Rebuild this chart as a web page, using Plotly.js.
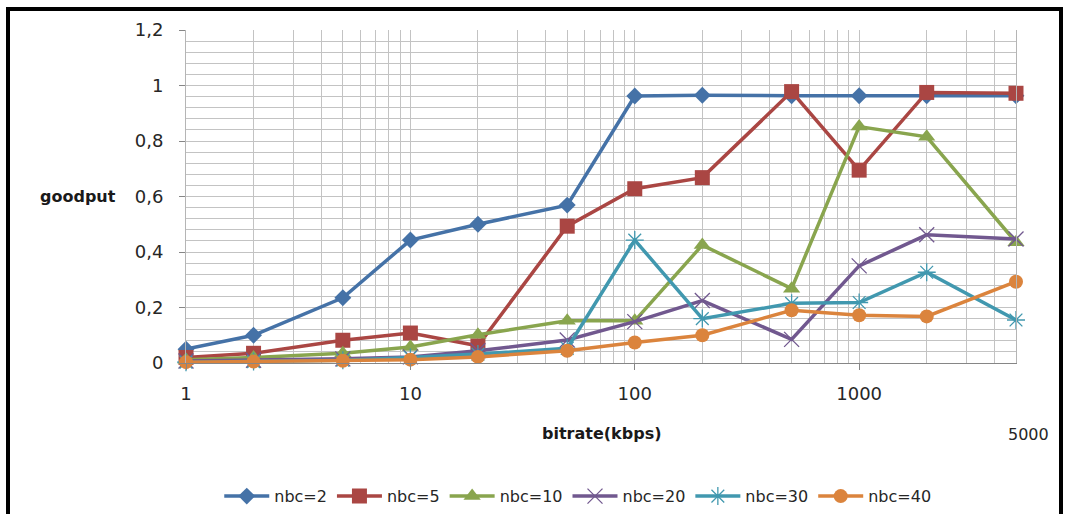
<!DOCTYPE html>
<html>
<head>
<meta charset="utf-8">
<script src="https://cdn.plot.ly/plotly-3.0.1.min.js"></script>
<style>
  html, body { margin: 0; padding: 0; background: #ffffff; }
  #wrap { position: relative; width: 1065px; height: 514px; overflow: hidden; }
  #chart { position: absolute; left: 0; top: 0; width: 1065px; height: 514px; }
  #frame { position: absolute; left: 6px; top: 7px; width: 1049px; height: 520px;
           border: 4px solid #000; pointer-events: none; }
</style>
</head>
<body>
<div id="wrap">
  <div id="chart"></div>
  <div id="frame"></div>
</div>
<script>
// bitrate in kbps (log x axis)
const bitrate = [1, 2, 5, 10, 20, 50, 100, 200, 500, 1000, 2000, 5000];

// goodput per number of concurrent connections
const nbc2  = [0.05, 0.10, 0.235, 0.443, 0.50, 0.569, 0.962, 0.965, 0.963, 0.963, 0.963, 0.963];
const nbc5  = [0.02, 0.035, 0.082, 0.108, 0.062, 0.493, 0.628, 0.668, 0.978, 0.695, 0.975, 0.972];
const nbc10 = [0.012, 0.02, 0.035, 0.058, 0.102, 0.152, 0.152, 0.425, 0.268, 0.852, 0.815, 0.435];
const nbc20 = [0.007, 0.01, 0.015, 0.022, 0.044, 0.083, 0.149, 0.225, 0.085, 0.35, 0.462, 0.447];
const nbc30 = [0.003, 0.005, 0.01, 0.02, 0.032, 0.053, 0.443, 0.16, 0.215, 0.218, 0.327, 0.155];
const nbc40 = [0.003, 0.005, 0.008, 0.012, 0.022, 0.044, 0.074, 0.10, 0.19, 0.172, 0.168, 0.293];

const seriesNames = ['nbc=2', 'nbc=5', 'nbc=10', 'nbc=20', 'nbc=30', 'nbc=40'];
const xTickVals = [1, 10, 100, 1000];
const xTickText = ['1', '10', '100', '1000'];
const yTickVals = [0, 0.2, 0.4, 0.6, 0.8, 1, 1.2];
const yTickText = ['0', '0,2', '0,4', '0,6', '0,8', '1', '1,2'];

const FONT = 'DejaVu Sans, sans-serif';
const GRID = '#c3c3c3';

const styles = [
  { color: '#4572A7', symbol: 'diamond', size: 13 },
  { color: '#AA4643', symbol: 'square', size: 15 },
  { color: '#89A54E', symbol: 'triangle-up', size: 15 },
  { color: '#71588F', symbol: 'x-thin-open', size: 15 },
  { color: '#4198AF', symbol: 'asterisk-open', size: 15 },
  { color: '#DB843D', symbol: 'circle', size: 14 }
];

const values = [nbc2, nbc5, nbc10, nbc20, nbc30, nbc40];

const traces = values.map((ys, i) => {
  const s = styles[i];
  const thin = s.symbol.indexOf('open') >= 0;
  return {
    type: 'scatter',
    mode: 'lines+markers',
    name: seriesNames[i],
    x: bitrate,
    y: ys,
    line: { color: s.color, width: 3.5 },
    marker: {
      symbol: s.symbol,
      size: s.size,
      color: s.color,
      line: { color: s.color, width: thin ? 1.3 : 0 }
    },
    cliponaxis: false
  };
});

const layout = {
  width: 1065,
  height: 514,
  margin: { l: 186, r: 49, t: 30, b: 151, autoexpand: false },
  paper_bgcolor: '#ffffff',
  plot_bgcolor: '#ffffff',
  font: { family: FONT, size: 18, color: '#262626' },
  showlegend: true,
  legend: {
    orientation: 'h',
    x: 0.472, xanchor: 'center',
    y: -0.40, yanchor: 'middle',
    font: { family: FONT, size: 16, color: '#262626' },
    itemwidth: 45,
    tracegroupgap: 0
  },
  xaxis: {
    type: 'log',
    range: [0, Math.log10(5000)],
    tickmode: 'array',
    tickvals: xTickVals,
    ticktext: xTickText,
    ticks: 'outside',
    ticklen: 6,
    tickcolor: '#868686',
    ticklabelstandoff: 8,
    showgrid: true,
    gridcolor: GRID,
    gridwidth: 1,
    minor: { dtick: 'D1', showgrid: true, gridcolor: GRID, gridwidth: 1 },
    showline: true,
    linecolor: '#868686',
    linewidth: 1,
    zeroline: false,
    fixedrange: true
  },
  yaxis: {
    range: [0, 1.2],
    tickmode: 'array',
    tickvals: yTickVals,
    ticktext: yTickText,
    ticks: 'outside',
    ticklen: 6,
    tickcolor: '#868686',
    ticklabelstandoff: 12,
    showgrid: true,
    gridcolor: GRID,
    gridwidth: 1,
    minor: { dtick: 0.04, showgrid: true, gridcolor: GRID, gridwidth: 1 },
    showline: true,
    linecolor: '#b5b5b5',
    linewidth: 1,
    mirror: true,
    zeroline: false,
    fixedrange: true
  },
  annotations: [
    {
      text: '<b>goodput</b>', xref: 'paper', yref: 'paper',
      x: -0.130, y: 0.5015, xanchor: 'center', yanchor: 'middle',
      showarrow: false, font: { family: FONT, size: 16, color: '#1a1a1a' }
    },
    {
      text: '<b>bitrate(kbps)</b>', xref: 'paper', yref: 'paper',
      x: 0.5, y: -0.211, xanchor: 'center', yanchor: 'middle',
      showarrow: false, font: { family: FONT, size: 16, color: '#1a1a1a' }
    },
    {
      text: '5000', xref: 'paper', yref: 'paper',
      x: 1.0145, y: -0.216, xanchor: 'center', yanchor: 'middle',
      showarrow: false, font: { family: FONT, size: 16, color: '#262626' }
    }
  ]
};

Plotly.newPlot('chart', traces, layout, { displayModeBar: false, staticPlot: true });
</script>
</body>
</html>
